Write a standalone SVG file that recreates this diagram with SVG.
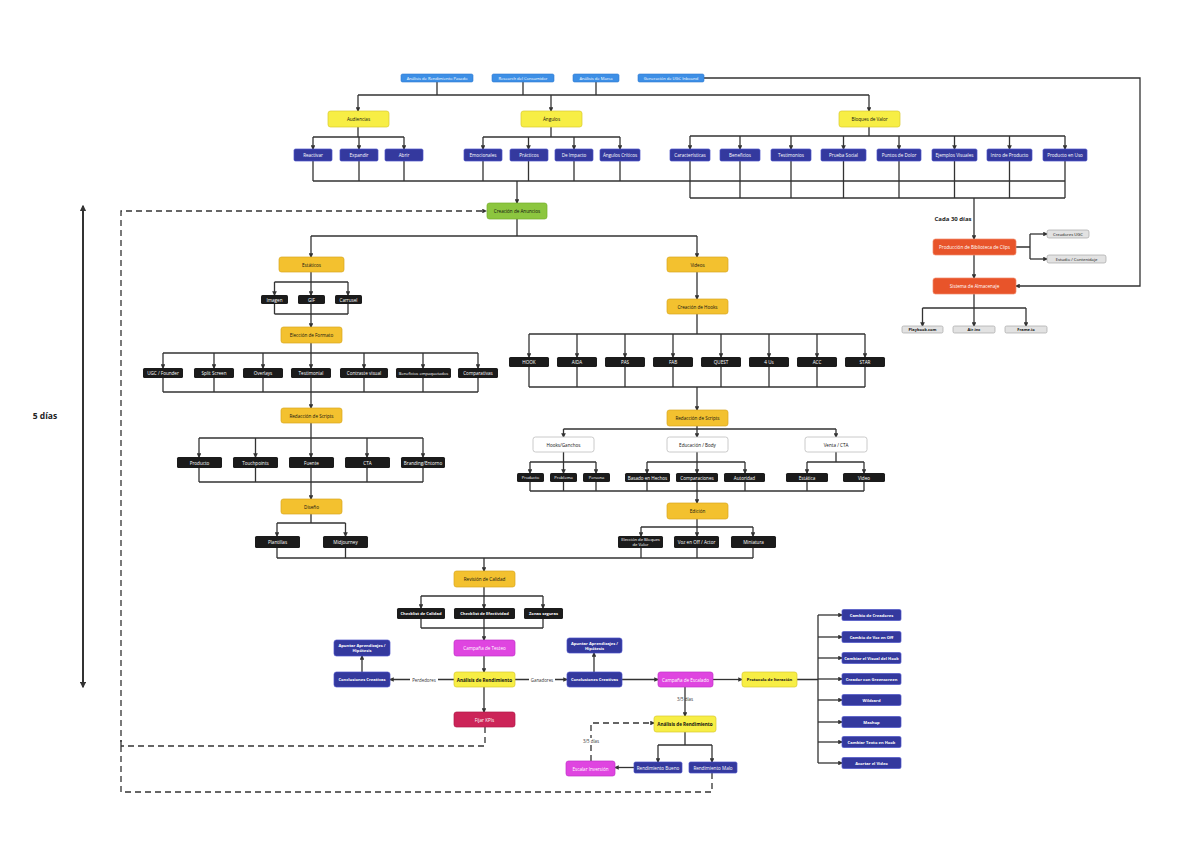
<svg xmlns="http://www.w3.org/2000/svg" width="1200" height="860" viewBox="0 0 1200 860">
<defs>
<style>
text{font-family:"Open Sans","Liberation Sans",sans-serif;text-anchor:middle;dominant-baseline:central;font-size:4.6px}
.tw{fill:#fff}.tk{fill:#111}.bd{font-weight:bold}
.b{fill:#3d8fe6;stroke:#2f7bd0;stroke-width:.6}
.y{fill:#f7ee45;stroke:#d9c92e;stroke-width:.7}
.d{fill:#34399e;stroke:#4b52c8;stroke-width:.7}
.k{fill:#1b1b1b}
.o{fill:#f3c12f;stroke:#d9a61f;stroke-width:.7}
.w{fill:#fff;stroke:#bdbdbd;stroke-width:.8}
.r{fill:#e8542a;stroke:#f08a6a;stroke-width:.7}
.g{fill:#e2e2e2;stroke:#a8a8a8;stroke-width:.7}
.m{fill:#df45e0;stroke:#c030c8;stroke-width:.7}
.c{fill:#cc2458;stroke:#b01848;stroke-width:.7}
.gr{fill:#8cc63f;stroke:#74ad2a;stroke-width:.7}
#conn path{fill:none;stroke:#333;stroke-width:1.3}
#conn .a{marker-end:url(#ah)}
#conn .ds{stroke-dasharray:6 4}
.lbl{font-size:4.4px;fill:#333}
.sm{font-size:4.1px}
</style>
<marker id="ah" viewBox="0 0 10 10" refX="8" refY="5" markerWidth="3.6" markerHeight="3.6" orient="auto" markerUnits="strokeWidth"><path d="M0 0L10 5L0 10z" fill="#333"/></marker>
<marker id="ah2" viewBox="0 0 10 10" refX="8" refY="5" markerWidth="3.4" markerHeight="3.4" orient="auto-start-reverse" markerUnits="strokeWidth"><path d="M0 0L10 5L0 10z" fill="#333"/></marker>
</defs>
<rect width="1200" height="860" fill="#fff"/>

<g id="conn">
<path d="M437 82V95M523 82V95M596 82V95M358 95H869"/>
<path class="a" d="M358 95V111"/><path class="a" d="M551 95V111"/><path class="a" d="M869 95V111"/>
<path d="M358 127V137M313 137H404"/>
<path class="a" d="M313 137V149"/><path class="a" d="M359 137V149"/><path class="a" d="M404 137V149"/>
<path d="M551 127V137M483 137H620"/>
<path class="a" d="M483 137V149"/><path class="a" d="M528.5 137V149"/><path class="a" d="M574 137V149"/><path class="a" d="M620 137V149"/>
<path d="M869 127V136M690 136H1065"/>
<path class="a" d="M690 136V149"/><path class="a" d="M740 136V149"/><path class="a" d="M791 136V149"/><path class="a" d="M843.5 136V149"/><path class="a" d="M899 136V149"/><path class="a" d="M954.5 136V149"/><path class="a" d="M1009.5 136V149"/><path class="a" d="M1065 136V149"/>
<path d="M313 161V181M359 161V181M404 161V181M483 161V181M528.5 161V181M574 161V181M620 161V181M313 181H1065"/>
<path d="M690 161V198M740 161V198M791 161V198M843.5 161V198M899 161V198M954.5 161V198M1009.5 161V198M1065 161V198M690 198H1065"/>
<path class="a" d="M517 181V203"/>
<path class="a" d="M974 198V239"/>
<path class="a" d="M704 78H1140V286H1016"/>
<path d="M1016 247H1030M1030 234V259"/>
<path class="a" d="M1030 234H1047"/><path class="a" d="M1030 259H1047"/>
<path class="a" d="M974 255V278"/>
<path d="M974 294V308M922.5 308H1026"/>
<path class="a" d="M922.5 308V326"/><path class="a" d="M974 308V326"/><path class="a" d="M1026 308V326"/>
<path class="a ds" d="M121 746V211H486"/>
<path class="ds" d="M485 727V746H121"/>
<path class="ds" d="M712 773V792H121V740"/>
<path d="M517 219V236M311 236H697"/>
<path class="a" d="M311 236V257"/><path class="a" d="M697 236V257"/>
<path d="M311 272V282M274.5 282H348"/>
<path class="a" d="M274.5 282V295"/><path class="a" d="M311 282V295"/><path class="a" d="M348 282V295"/>
<path d="M274.5 304V314M311 304V314M348 304V314M274.5 314H348"/>
<path class="a" d="M311 314V327"/>
<path d="M311 343V353M163 353H478"/>
<path class="a" d="M163 353V368"/><path class="a" d="M214 353V368"/><path class="a" d="M263 353V368"/><path class="a" d="M311 353V368"/><path class="a" d="M364 353V368"/><path class="a" d="M423 353V368"/><path class="a" d="M478 353V368"/>
<path d="M163 378V392M214 378V392M263 378V392M311 378V392M364 378V392M423 378V392M478 378V392M163 392H478"/>
<path class="a" d="M311 392V408"/>
<path d="M311 423V438M199 438H423"/>
<path class="a" d="M199 438V457"/><path class="a" d="M255.5 438V457"/><path class="a" d="M311 438V457"/><path class="a" d="M367 438V457"/><path class="a" d="M423 438V457"/>
<path d="M199 468V482M255.5 468V482M311 468V482M367 468V482M423 468V482M199 482H423"/>
<path class="a" d="M311 482V499"/>
<path d="M311 514V523M277 523H345.5"/>
<path class="a" d="M277 523V536"/><path class="a" d="M345.5 523V536"/>
<path d="M277 548V558M345.5 548V558M277 558H753"/>
<path class="a" d="M697 272V299"/>
<path d="M697 314V334M529 334H865"/>
<path class="a" d="M529 334V357"/><path class="a" d="M577 334V357"/><path class="a" d="M625 334V357"/><path class="a" d="M673 334V357"/><path class="a" d="M721 334V357"/><path class="a" d="M769 334V357"/><path class="a" d="M817 334V357"/><path class="a" d="M865 334V357"/>
<path d="M529 367V387M577 367V387M625 367V387M673 367V387M721 367V387M769 367V387M817 367V387M865 367V387M529 387H865"/>
<path class="a" d="M697 387V410"/>
<path d="M697 426V429M563.5 429H836"/>
<path class="a" d="M563.5 429V437"/><path class="a" d="M697 429V437"/><path class="a" d="M836 429V437"/>
<path d="M563.5 452V462M530 462H596"/>
<path class="a" d="M530 462V473"/><path class="a" d="M563.5 462V473"/><path class="a" d="M596 462V473"/>
<path d="M697 452V462M647 462H745"/>
<path class="a" d="M647 462V473"/><path class="a" d="M697 462V473"/><path class="a" d="M745 462V473"/>
<path d="M836 452V462M807 462H864"/>
<path class="a" d="M807 462V473"/><path class="a" d="M864 462V473"/>
<path d="M530 482V491M563.5 482V491M596 482V491M647 482V491M697 482V491M745 482V491M807 482V491M864 482V491M530 491H864"/>
<path class="a" d="M697 491V503"/>
<path d="M697 519V527M641 527H753"/>
<path class="a" d="M641 527V536"/><path class="a" d="M697 527V536"/><path class="a" d="M753 527V536"/>
<path d="M641 548V558M697 548V558M753 548V558"/>
<path class="a" d="M484 558V571"/>
<path d="M484 587V596M421 596H543"/>
<path class="a" d="M421 596V608"/><path class="a" d="M484 596V608"/><path class="a" d="M543 596V608"/>
<path d="M421 619V628M484 619V628M543 619V628M421 628H543"/>
<path class="a" d="M484 628V640"/>
<path class="a" d="M484 656V672"/>
<path class="a" d="M454 679.5H390"/>
<path class="a" d="M362 672V656"/>
<path class="a" d="M515 679.5H567"/>
<path class="a" d="M594 672V653"/>
<path class="a" d="M622 679.5H658"/>
<path class="a" d="M713 679.5H742"/>
<path d="M797 679.5H818M818 615V763"/>
<path class="a" d="M818 615H842"/><path class="a" d="M818 637H842"/><path class="a" d="M818 658H842"/><path class="a" d="M818 679H842"/><path class="a" d="M818 700H842"/><path class="a" d="M818 722H842"/><path class="a" d="M818 742H842"/><path class="a" d="M818 763H842"/>
<path class="a" d="M484 687V712"/>
<path class="a" d="M685 687V716"/>
<path d="M685 732V745M658 745H712"/>
<path class="a" d="M658 745V762"/><path class="a" d="M712 745V762"/>
<path class="a" d="M634 767.5H615"/>
<path class="a ds" d="M591 761V723H654"/>
<path d="M83 206V687" style="stroke:#333;stroke-width:2;marker-start:url(#ah2);marker-end:url(#ah2)"/>
</g>

<g id="labels">
<rect x="410" y="676" width="28" height="7" fill="#fff"/><text class="lbl" x="424" y="679.5">Perdedores</text>
<rect x="529" y="676" width="26" height="7" fill="#fff"/><text class="lbl" x="542" y="679.5">Ganadores</text>
<text class="lbl" x="685" y="699">3/5 días</text>
<rect x="581" y="738" width="20" height="7" fill="#fff"/><text class="lbl" x="591" y="741">3/5 días</text>
<text class="bd" x="953" y="219" style="font-size:6px;fill:#222">Cada 30 días</text>
<text class="bd" x="45" y="415" style="font-size:8.5px;fill:#222">5 días</text>
</g>

<g id="n1"><rect class="b" x="401" y="74" width="72" height="8" rx="1.5"/><text class="tw" x="437" y="78" style="font-size:4.1px">Análisis de Rendimiento Pasado</text></g>
<g id="n2"><rect class="b" x="492" y="74" width="62" height="8" rx="1.5"/><text class="tw" x="523" y="78" style="font-size:4.1px">Research del Consumidor</text></g>
<g id="n3"><rect class="b" x="573" y="74" width="46" height="8" rx="1.5"/><text class="tw" x="596" y="78" style="font-size:4.1px">Análisis de Marca</text></g>
<g id="n4"><rect class="b" x="638" y="74" width="66" height="8" rx="1.5"/><text class="tw" x="671" y="78" style="font-size:4.1px">Generación de UGC Inbound</text></g>

<g id="audiencias"><rect class="y" x="328" y="111" width="61" height="16" rx="2.5"/><text class="tk" x="358.5" y="119">Audiencias</text></g>
<g id="angulos"><rect class="y" x="521" y="111" width="61" height="16" rx="2.5"/><text class="tk" x="551.5" y="119">Ángulos</text></g>
<g id="bloques"><rect class="y" x="839" y="111" width="61" height="16" rx="2.5"/><text class="tk" x="869.5" y="119">Bloques de Valor</text></g>

<g id="a1"><rect class="d" x="294" y="149" width="38" height="12" rx="1.5"/><text class="tw" x="313" y="155">Reactivar</text></g>
<g id="a2"><rect class="d" x="340" y="149" width="38" height="12" rx="1.5"/><text class="tw" x="359" y="155">Expandir</text></g>
<g id="a3"><rect class="d" x="385" y="149" width="38" height="12" rx="1.5"/><text class="tw" x="404" y="155">Abrir</text></g>
<g id="g1"><rect class="d" x="464" y="149" width="38" height="12" rx="1.5"/><text class="tw" x="483" y="155">Emocionales</text></g>
<g id="g2"><rect class="d" x="510" y="149" width="38" height="12" rx="1.5"/><text class="tw" x="529" y="155">Prácticos</text></g>
<g id="g3"><rect class="d" x="555" y="149" width="38" height="12" rx="1.5"/><text class="tw" x="574" y="155">De Impacto</text></g>
<g id="g4"><rect class="d" x="600" y="149" width="40" height="12" rx="1.5"/><text class="tw" x="620" y="155">Ángulos Críticos</text></g>
<g id="v1"><rect class="d" x="670" y="149" width="40" height="12" rx="1.5"/><text class="tw" x="690" y="155">Características</text></g>
<g id="v2"><rect class="d" x="720" y="149" width="40" height="12" rx="1.5"/><text class="tw" x="740" y="155">Beneficios</text></g>
<g id="v3"><rect class="d" x="771" y="149" width="40" height="12" rx="1.5"/><text class="tw" x="791" y="155">Testimonios</text></g>
<g id="v4"><rect class="d" x="821" y="149" width="45" height="12" rx="1.5"/><text class="tw" x="843.5" y="155">Prueba Social</text></g>
<g id="v5"><rect class="d" x="877" y="149" width="44" height="12" rx="1.5"/><text class="tw" x="899" y="155">Puntos de Dolor</text></g>
<g id="v6"><rect class="d" x="932" y="149" width="45" height="12" rx="1.5"/><text class="tw" x="954.5" y="155">Ejemplos Visuales</text></g>
<g id="v7"><rect class="d" x="987" y="149" width="45" height="12" rx="1.5"/><text class="tw" x="1009.5" y="155">Intro de Producto</text></g>
<g id="v8"><rect class="d" x="1043" y="149" width="44" height="12" rx="1.5"/><text class="tw" x="1065" y="155">Producto en Uso</text></g>

<g id="creacion"><rect class="gr" x="487" y="203" width="60" height="16" rx="2.5"/><text class="tk" x="517" y="211">Creación de Anuncios</text></g>

<g id="produccion"><rect class="r" x="933" y="239" width="83" height="16" rx="2.5"/><text class="tw" x="974.5" y="247">Producción de Biblioteca de Clips</text></g>
<g id="ugc"><rect class="g" x="1047" y="230" width="42" height="8" rx="2"/><text class="tk" x="1068" y="234" style="font-size:4.2px">Creadores UGC</text></g>
<g id="estudio"><rect class="g" x="1047" y="255" width="59" height="8" rx="2"/><text class="tk" x="1076.5" y="259" style="font-size:4.2px">Estudio / Contenidaje</text></g>
<g id="sistema"><rect class="r" x="933" y="278" width="83" height="16" rx="2.5"/><text class="tw" x="974.5" y="286">Sistema de Almacenaje</text></g>
<g id="s1"><rect class="g" x="902" y="326" width="41" height="7" rx="1.5"/><text class="tk bd" x="922.5" y="329.5" style="font-size:4px">Playbook.com</text></g>
<g id="s2"><rect class="g" x="953" y="326" width="42" height="7" rx="1.5"/><text class="tk bd" x="974" y="329.5" style="font-size:4px">Air.inc</text></g>
<g id="s3"><rect class="g" x="1005" y="326" width="42" height="7" rx="1.5"/><text class="tk bd" x="1026" y="329.5" style="font-size:4px">Frame.io</text></g>

<g id="estaticos"><rect class="o" x="279" y="257" width="65" height="15" rx="2.5"/><text class="tk" x="311.5" y="264.5">Estáticos</text></g>
<g id="e1"><rect class="k" x="261" y="295" width="27" height="9" rx="1.5"/><text class="tw" x="274.5" y="299.5">Imagen</text></g>
<g id="e2"><rect class="k" x="298" y="295" width="27" height="9" rx="1.5"/><text class="tw" x="311.5" y="299.5">GIF</text></g>
<g id="e3"><rect class="k" x="335" y="295" width="27" height="9" rx="1.5"/><text class="tw" x="348.5" y="299.5">Carrusel</text></g>
<g id="formato"><rect class="o" x="281" y="327" width="61" height="16" rx="2.5"/><text class="tk" x="311.5" y="335">Elección de Formato</text></g>
<g id="f1"><rect class="k" x="143" y="368" width="40" height="10" rx="1.5"/><text class="tw" x="163" y="373">UGC / Founder</text></g>
<g id="f2"><rect class="k" x="194" y="368" width="40" height="10" rx="1.5"/><text class="tw" x="214" y="373">Split Screen</text></g>
<g id="f3"><rect class="k" x="243" y="368" width="40" height="10" rx="1.5"/><text class="tw" x="263" y="373">Overlays</text></g>
<g id="f4"><rect class="k" x="291" y="368" width="40" height="10" rx="1.5"/><text class="tw" x="311" y="373">Testimonial</text></g>
<g id="f5"><rect class="k" x="340" y="368" width="48" height="10" rx="1.5"/><text class="tw" x="364" y="373">Contraste visual</text></g>
<g id="f6"><rect class="k" x="396" y="368" width="55" height="10" rx="1.5"/><text class="tw sm" x="423.5" y="373">Beneficios empaquetados</text></g>
<g id="f7"><rect class="k" x="458" y="368" width="40" height="10" rx="1.5"/><text class="tw" x="478" y="373">Comparativas</text></g>
<g id="scripts1"><rect class="o" x="281" y="408" width="61" height="15" rx="2.5"/><text class="tk" x="311.5" y="415.5">Redacción de Scripts</text></g>
<g id="r1"><rect class="k" x="177" y="457" width="45" height="11" rx="1.5"/><text class="tw" x="199.5" y="462.5">Producto</text></g>
<g id="r2"><rect class="k" x="233" y="457" width="45" height="11" rx="1.5"/><text class="tw" x="255.5" y="462.5">Touchpoints</text></g>
<g id="r3"><rect class="k" x="289" y="457" width="45" height="11" rx="1.5"/><text class="tw" x="311.5" y="462.5">Fuente</text></g>
<g id="r4"><rect class="k" x="345" y="457" width="45" height="11" rx="1.5"/><text class="tw" x="367.5" y="462.5">CTA</text></g>
<g id="r5"><rect class="k" x="401" y="457" width="44" height="11" rx="1.5"/><text class="tw" x="423" y="462.5">Branding/Entorno</text></g>
<g id="diseno"><rect class="o" x="281" y="499" width="61" height="15" rx="2.5"/><text class="tk" x="311.5" y="506.5">Diseño</text></g>
<g id="d1"><rect class="k" x="255" y="536" width="45" height="12" rx="1.5"/><text class="tw" x="277.5" y="542">Plantillas</text></g>
<g id="d2"><rect class="k" x="323" y="536" width="45" height="12" rx="1.5"/><text class="tw" x="345.5" y="542">Midjourney</text></g>

<g id="videos"><rect class="o" x="667" y="257" width="61" height="15" rx="2.5"/><text class="tk" x="697.5" y="264.5">Videos</text></g>
<g id="hooks"><rect class="o" x="667" y="299" width="61" height="15" rx="2.5"/><text class="tk" x="697.5" y="306.5">Creación de Hooks</text></g>
<g id="h1"><rect class="k" x="509" y="357" width="40" height="10" rx="1.5"/><text class="tw" x="529" y="362">HOOK</text></g>
<g id="h2"><rect class="k" x="557" y="357" width="40" height="10" rx="1.5"/><text class="tw" x="577" y="362">AIDA</text></g>
<g id="h3"><rect class="k" x="605" y="357" width="40" height="10" rx="1.5"/><text class="tw" x="625" y="362">PAS</text></g>
<g id="h4"><rect class="k" x="653" y="357" width="40" height="10" rx="1.5"/><text class="tw" x="673" y="362">FAB</text></g>
<g id="h5"><rect class="k" x="701" y="357" width="40" height="10" rx="1.5"/><text class="tw" x="721" y="362">QUEST</text></g>
<g id="h6"><rect class="k" x="749" y="357" width="40" height="10" rx="1.5"/><text class="tw" x="769" y="362">4 Us</text></g>
<g id="h7"><rect class="k" x="797" y="357" width="40" height="10" rx="1.5"/><text class="tw" x="817" y="362">ACC</text></g>
<g id="h8"><rect class="k" x="845" y="357" width="40" height="10" rx="1.5"/><text class="tw" x="865" y="362">STAR</text></g>
<g id="scripts2"><rect class="o" x="667" y="410" width="61" height="16" rx="2.5"/><text class="tk" x="697.5" y="418">Redacción de Scripts</text></g>
<g id="w1"><rect class="w" x="533" y="437" width="61" height="15" rx="2.5"/><text class="tk" x="563.5" y="444.5">Hooks/Ganchos</text></g>
<g id="w2"><rect class="w" x="667" y="437" width="61" height="15" rx="2.5"/><text class="tk" x="697.5" y="444.5">Educación / Body</text></g>
<g id="w3"><rect class="w" x="805" y="437" width="62" height="15" rx="2.5"/><text class="tk" x="836" y="444.5">Venta / CTA</text></g>
<g id="x1"><rect class="k" x="517" y="473" width="27" height="9" rx="1.5"/><text class="tw sm" x="530.5" y="477.5">Producto</text></g>
<g id="x2"><rect class="k" x="550" y="473" width="27" height="9" rx="1.5"/><text class="tw sm" x="563.5" y="477.5">Problema</text></g>
<g id="x3"><rect class="k" x="583" y="473" width="27" height="9" rx="1.5"/><text class="tw sm" x="596.5" y="477.5">Persona</text></g>
<g id="x4"><rect class="k" x="625" y="473" width="45" height="9" rx="1.5"/><text class="tw" x="647.5" y="477.5">Basado en Hechos</text></g>
<g id="x5"><rect class="k" x="676" y="473" width="42" height="9" rx="1.5"/><text class="tw" x="697" y="477.5">Comparaciones</text></g>
<g id="x6"><rect class="k" x="724" y="473" width="41" height="9" rx="1.5"/><text class="tw" x="744.5" y="477.5">Autoridad</text></g>
<g id="x7"><rect class="k" x="786" y="473" width="42" height="9" rx="1.5"/><text class="tw" x="807" y="477.5">Estática</text></g>
<g id="x8"><rect class="k" x="843" y="473" width="42" height="9" rx="1.5"/><text class="tw" x="864" y="477.5">Video</text></g>
<g id="edicion"><rect class="o" x="667" y="503" width="61" height="16" rx="2.5"/><text class="tk" x="697.5" y="511">Edición</text></g>
<g id="ed1"><rect class="k" x="618" y="536" width="45" height="12" rx="1.5"/><text class="tw" x="640.5" y="539.8" style="font-size:4.2px">Elección de Bloques</text><text class="tw" x="640.5" y="544.6" style="font-size:4.2px">de Valor</text></g>
<g id="ed2"><rect class="k" x="674" y="536" width="45" height="12" rx="1.5"/><text class="tw" x="696.5" y="542">Voz en Off / Actor</text></g>
<g id="ed3"><rect class="k" x="731" y="536" width="45" height="12" rx="1.5"/><text class="tw" x="753.5" y="542">Miniatura</text></g>

<g id="revision"><rect class="o" x="454" y="571" width="61" height="16" rx="2.5"/><text class="tk" x="484.5" y="579">Revisión de Calidad</text></g>
<g id="q1"><rect class="k" x="397" y="608" width="48" height="11" rx="1.5"/><text class="tw bd sm" x="421" y="613.5">Checklist de Calidad</text></g>
<g id="q2"><rect class="k" x="454" y="608" width="61" height="11" rx="1.5"/><text class="tw bd sm" x="484.5" y="613.5">Checklist de Efectividad</text></g>
<g id="q3"><rect class="k" x="524" y="608" width="39" height="11" rx="1.5"/><text class="tw bd sm" x="543.5" y="613.5">Zonas seguras</text></g>
<g id="testeo"><rect class="m" x="454" y="640" width="61" height="16" rx="2.5"/><text class="tw" x="484.5" y="648">Campaña de Testeo</text></g>
<g id="analisis1"><rect class="y" x="454" y="672" width="61" height="15" rx="2.5"/><text class="tk bd" x="484.5" y="679.5">Análisis de Rendimiento</text></g>
<g id="concl1"><rect class="d" x="334" y="672" width="56" height="15" rx="2.5"/><text class="tw bd sm" x="362" y="679.5">Conclusiones Creativas</text></g>
<g id="apunt1"><rect class="d" x="334" y="640" width="56" height="16" rx="2.5"/><text class="tw bd sm" x="362" y="645.6">Apuntar Aprendizajes /</text><text class="tw bd sm" x="362" y="650.6">Hipótesis</text></g>
<g id="concl2"><rect class="d" x="567" y="672" width="55" height="15" rx="2.5"/><text class="tw bd sm" x="594.5" y="679.5">Conclusiones Creativas</text></g>
<g id="apunt2"><rect class="d" x="567" y="638" width="55" height="15" rx="2.5"/><text class="tw bd sm" x="594.5" y="643.3">Apuntar Aprendizajes /</text><text class="tw bd sm" x="594.5" y="648.3">Hipótesis</text></g>
<g id="escalado"><rect class="m" x="658" y="672" width="55" height="15" rx="2.5"/><text class="tw" x="685.5" y="679.5">Campaña de Escalado</text></g>
<g id="protocolo"><rect class="y" x="742" y="672" width="55" height="15" rx="2.5"/><text class="tk bd sm" x="769.5" y="679.5">Protocolo de Iteración</text></g>
<g id="kpis"><rect class="c" x="454" y="712" width="61" height="15" rx="2.5"/><text class="tw" x="484.5" y="719.5">Fijar KPIs</text></g>
<g id="p1"><rect class="d" x="842" y="609.5" width="59" height="11" rx="1.5"/><text class="tw bd sm" x="871.5" y="615">Cambio de Creadores</text></g>
<g id="p2"><rect class="d" x="842" y="631.5" width="59" height="11" rx="1.5"/><text class="tw bd sm" x="871.5" y="637">Cambio de Voz en Off</text></g>
<g id="p3"><rect class="d" x="842" y="652.5" width="59" height="11" rx="1.5"/><text class="tw bd sm" x="871.5" y="658">Cambiar el Visual del Hook</text></g>
<g id="p4"><rect class="d" x="842" y="673.5" width="59" height="11" rx="1.5"/><text class="tw bd sm" x="871.5" y="679">Creador con Greenscreen</text></g>
<g id="p5"><rect class="d" x="842" y="694.5" width="59" height="11" rx="1.5"/><text class="tw bd sm" x="871.5" y="700">Wildcard</text></g>
<g id="p6"><rect class="d" x="842" y="716.5" width="59" height="11" rx="1.5"/><text class="tw bd sm" x="871.5" y="722">Mashup</text></g>
<g id="p7"><rect class="d" x="842" y="736.5" width="59" height="11" rx="1.5"/><text class="tw bd sm" x="871.5" y="742">Cambiar Texto en Hook</text></g>
<g id="p8"><rect class="d" x="842" y="757.5" width="59" height="11" rx="1.5"/><text class="tw bd sm" x="871.5" y="763">Acortar el Video</text></g>
<g id="analisis2"><rect class="y" x="654" y="716" width="62" height="16" rx="2.5"/><text class="tk bd" x="685" y="724">Análisis de Rendimiento</text></g>
<g id="bueno"><rect class="d" x="634" y="762" width="48" height="11" rx="1.5"/><text class="tw" x="658" y="767.5">Rendimiento Bueno</text></g>
<g id="malo"><rect class="d" x="689" y="762" width="48" height="11" rx="1.5"/><text class="tw" x="713" y="767.5">Rendimiento Malo</text></g>
<g id="escalar"><rect class="m" x="566" y="761" width="49" height="15" rx="2.5"/><text class="tw" x="590.5" y="768.5">Escalar Inversión</text></g>
</svg>
